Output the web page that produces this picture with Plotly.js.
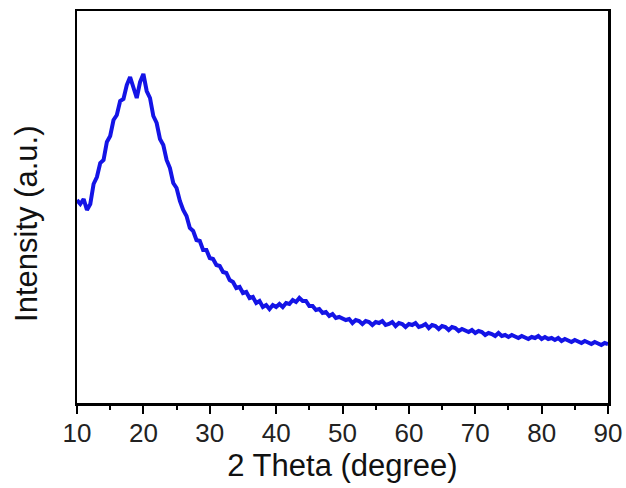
<!DOCTYPE html>
<html>
<head>
<meta charset="utf-8">
<script src="https://cdn.plot.ly/plotly-3.0.1.min.js"></script>
<style>html,body{margin:0;padding:0;background:#fff;}#chart{width:626px;height:488px;}</style>
</head>
<body>
<div id="chart"></div>
<script>
// 2 Theta (degree)
const twoTheta = [
 10.0,10.5,11.0,11.5,12.0,12.5,13.0,13.5,14.0,14.5,15.0,15.5,16.0,16.5,17.0,17.5,18.0,18.5,19.0,19.5,
 20.0,20.5,21.0,21.5,22.0,22.5,23.0,23.5,24.0,24.5,25.0,25.5,26.0,26.5,27.0,27.5,28.0,28.5,29.0,29.5,
 30.0,30.5,31.0,31.5,32.0,32.5,33.0,33.5,34.0,34.5,35.0,35.5,36.0,36.5,37.0,37.5,38.0,38.5,39.0,39.5,
 40.0,40.5,41.0,41.5,42.0,42.5,43.0,43.5,44.0,44.5,45.0,45.5,46.0,46.5,47.0,47.5,48.0,48.5,49.0,49.5,
 50.0,50.5,51.0,51.5,52.0,52.5,53.0,53.5,54.0,54.5,55.0,55.5,56.0,56.5,57.0,57.5,58.0,58.5,59.0,59.5,
 60.0,60.5,61.0,61.5,62.0,62.5,63.0,63.5,64.0,64.5,65.0,65.5,66.0,66.5,67.0,67.5,68.0,68.5,69.0,69.5,
 70.0,70.5,71.0,71.5,72.0,72.5,73.0,73.5,74.0,74.5,75.0,75.5,76.0,76.5,77.0,77.5,78.0,78.5,79.0,79.5,
 80.0,80.5,81.0,81.5,82.0,82.5,83.0,83.5,84.0,84.5,85.0,85.5,86.0,86.5,87.0,87.5,88.0,88.5,89.0,89.5,
 90.0
];
// Intensity (a.u.)
const intensity = [
 203,199,204,193,199,219,226,240,243,261,267,283,288,302,304,318,326,315,305,321,
 329,312,305,287,280,264,258,243,235,220,215,202,193,187,175,172,163,162,153,153,
 145,144,138,137,131,130,123,121,115,116,110,111,105,106,100,102,96,98,94,98,
 96,99,96,100,99,103,101,105,102,102,97,97,93,94,90,91,87,89,85,86,
 85,83,84,80,83,82,79,82,81,78,81,80,82,78,79,81,77,80,79,76,
 79,78,80,76,77,79,75,78,77,74,77,76,73,76,75,72,74,73,71,73,
 70,72,71,68,70,69,67,70,67,68,66,68,67,65,67,66,64,66,65,67,
 64,66,64,65,63,65,62,64,63,61,63,62,60,62,61,59,61,60,58,60,
 59
];
const xTickVals = [10,20,30,40,50,60,70,80,90];
const xTitle = '2 Theta (degree)';
const yTitle = 'Intensity (a.u.)';

const trace = {
  x: twoTheta, y: intensity, type: 'scatter', mode: 'lines',
  line: {color: '#1414e6', width: 4}, hoverinfo: 'skip'
};
const font = 'Arial, "Liberation Sans", sans-serif';
const layout = {
  width: 626, height: 488,
  margin: {l: 77, r: 18, t: 11, b: 85},
  paper_bgcolor: '#fff', plot_bgcolor: '#fff',
  showlegend: false,
  font: {family: font, color: '#111'},
  xaxis: {
    range: [10, 90], tickvals: xTickVals, ticktext: xTickVals.map(String),
    ticks: 'outside', ticklen: 8, tickwidth: 2, tickcolor: '#000',
    minor: {dtick: 5, tick0: 5, ticks: 'outside', ticklen: 4, tickwidth: 2, tickcolor: '#000'},
    showline: true, linecolor: '#000', linewidth: 2.5, mirror: true,
    showgrid: false, zeroline: false,
    ticklabelstandoff: -3,
    tickfont: {size: 26, family: font, color: '#222'},
    title: {text: xTitle, font: {size: 31, family: font, color: '#111'}, standoff: 4}
  },
  yaxis: {
    range: [0, 392],
    showticklabels: false, ticks: '',
    showline: true, linecolor: '#000', linewidth: 2.5, mirror: true,
    showgrid: false, zeroline: false
  },
  annotations: [{
    text: yTitle, textangle: -90, showarrow: false,
    xref: 'paper', yref: 'paper', x: -0.094, y: 0.457,
    xanchor: 'center', yanchor: 'middle',
    font: {size: 31, family: font, color: '#111'}
  }]
};
Plotly.newPlot('chart', [trace], layout, {displayModeBar: false, staticPlot: true});
</script>
</body>
</html>
